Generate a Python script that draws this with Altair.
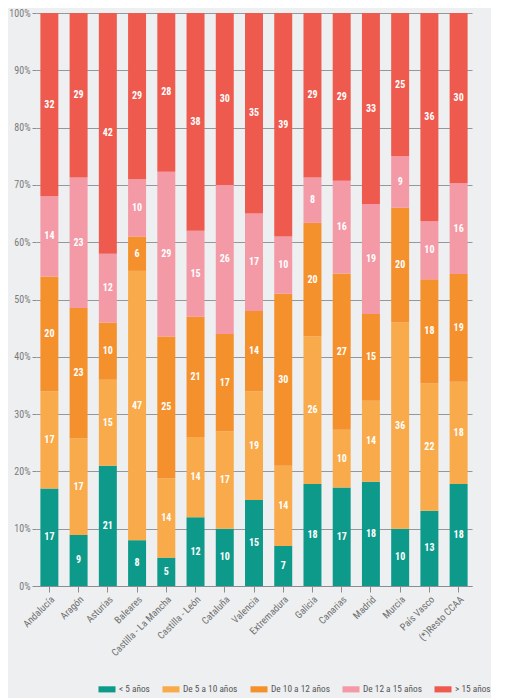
import altair as alt
import pandas as pd

categories = ["Andalucía", "Aragón", "Asturias", "Baleares", "Castilla - La Mancha",
              "Castilla - León", "Cataluña", "Valencia", "Extremadura", "Galicia",
              "Canarias", "Madrid", "Murcia", "País Vasco", "(*)Resto CCAA"]
series = ["< 5 años", "De 5 a 10 años", "De 10 a 12 años", "De 12 a 15 años", "> 15 años"]
colors = ["#0e9a8b", "#f9aa4a", "#f5912c", "#f39aa6", "#ee5a4e"]

lt5 = [17, 9, 21, 8, 5, 12, 10, 15, 7, 18, 17, 18, 10, 13, 18]
d5_10 = [17, 17, 15, 47, 14, 14, 17, 19, 14, 26, 10, 14, 36, 22, 18]
d10_12 = [20, 23, 10, 6, 25, 21, 17, 14, 30, 20, 27, 15, 20, 18, 19]
d12_15 = [14, 23, 12, 10, 29, 15, 26, 17, 10, 8, 16, 19, 9, 10, 16]
gt15 = [32, 29, 42, 29, 28, 38, 30, 35, 39, 29, 29, 33, 25, 36, 30]

FONT = "Roboto Condensed, Liberation Sans Narrow, DejaVu Sans Condensed, Roboto"

values = [lt5, d5_10, d10_12, d12_15, gt15]
rows = []
for si, (s, vals) in enumerate(zip(series, values)):
    for c, v in zip(categories, vals):
        rows.append({"cat": c, "serie": s, "idx": si, "value": v})
df = pd.DataFrame(rows)

base = alt.Chart(df).transform_stack(
    stack="value", groupby=["cat"], sort=[alt.SortField("idx", order="ascending")],
    as_=["y0", "y1"], offset="normalize"
).transform_calculate(mid="(datum.y0 + datum.y1) / 2")

xenc = alt.X("cat:N", sort=categories, title=None,
             scale=alt.Scale(paddingInner=0.385, paddingOuter=0.15),
             axis=alt.Axis(labelAngle=315, labelAlign="right", labelBaseline="top",
                           labelFontSize=10, labelColor="#6f6f6f", labelFont=FONT,
                           tickColor="#8a8e92", tickSize=6, domainColor="#8a8e92",
                           labelPadding=2))

bars = base.mark_bar().encode(
    x=xenc,
    y=alt.Y("y0:Q", title=None, scale=alt.Scale(domain=[0, 1], nice=False),
            axis=alt.Axis(format=".0%", values=[i / 10 for i in range(11)],
                          labelFontSize=10, labelColor="#7a7a7a", labelFont=FONT,
                          gridColor="#8a8e92", gridWidth=1, domain=False,
                          tickColor="#8a8e92", tickSize=4, labelPadding=2)),
    y2="y1:Q",
    color=alt.Color("serie:N", sort=series, title=None,
                    scale=alt.Scale(domain=series, range=colors),
                    legend=alt.Legend(orient="none", direction="horizontal",
                                      legendX=62, legendY=667,
                                      symbolType="M-1,-0.36L1,-0.36L1,0.36L-1,0.36Z",
                                      symbolSize=290, symbolStrokeWidth=0,
                                      labelFontSize=9.3, labelColor="#555555",
                                      labelFont=FONT, columnPadding=12,
                                      labelOffset=3, padding=0)),
)

text = base.mark_text(color="white", fontSize=10, fontWeight="bold", font=FONT).encode(
    x=alt.X("cat:N", sort=categories),
    y=alt.Y("mid:Q"),
    text=alt.Text("value:Q"),
)

chart = (bars + text).properties(
    width=436, height=573, background="#eeeff1",
    padding={"left": 0, "top": 0, "right": 0, "bottom": 3}
).configure_view(stroke=None).configure_axis(gridOpacity=0.9)

chart.save("out.html", embed_options={"renderer": "svg", "actions": False})
